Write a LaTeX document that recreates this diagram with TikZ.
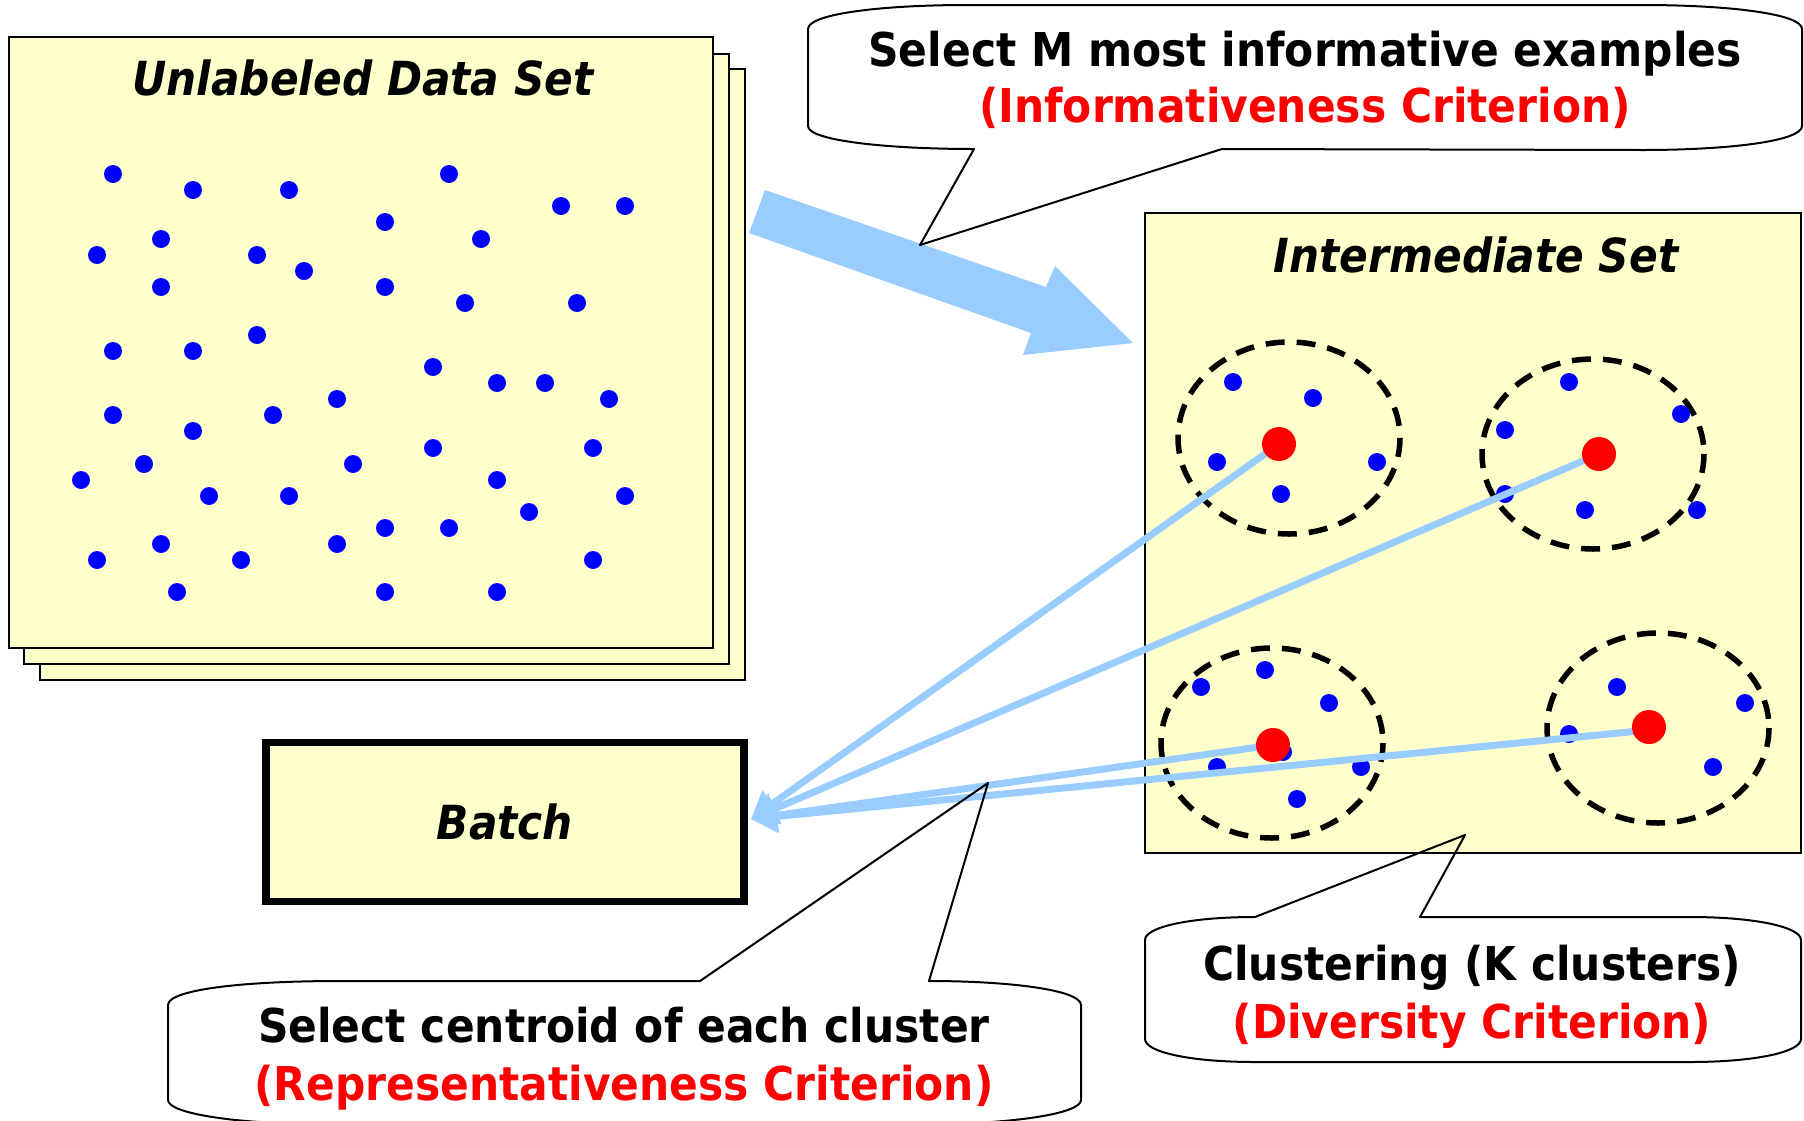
\documentclass[tikz,border=0pt]{standalone}
\usepackage{fontspec}
\setsansfont{DejaVu Sans}
\usetikzlibrary{arrows.meta}
\definecolor{yel}{HTML}{FFFFCC}
\definecolor{lblue}{HTML}{99CCFF}
\definecolor{dotblue}{HTML}{0000FF}
\definecolor{cred}{HTML}{FF0000}
\newcommand{\myCallFont}{\sffamily\bfseries\fontsize{46.6}{56}\selectfont}
\newcommand{\myTitleFont}{\sffamily\bfseries\itshape\fontsize{47}{56}\selectfont}
\newcommand{\sxc}[1]{\scalebox{0.91}[1]{#1}}
\newcommand{\sxt}[1]{\scalebox{0.9}[1]{#1}}
\begin{document}
\begin{tikzpicture}[x=1pt,y=-1pt,
  sheet/.style={draw=black,fill=yel,line width=2pt,inner sep=0pt},
  ttl/.style={font=\myTitleFont,anchor=base,inner sep=0pt},
  ctxt/.style={font=\myCallFont,anchor=base,inner sep=0pt},
  callout/.style={draw=black,line width=2pt,line join=round},
  clus/.style={draw=black,line width=5.5pt,dash pattern=on 19pt off 12pt},
  link/.style={draw=lblue,line width=7pt,-{Triangle[length=26pt,width=32pt]}},
  cent/.style={circle,fill=cred,minimum size=34pt,inner sep=0pt},
  bdot/.style={fill=dotblue}]
\useasboundingbox (0,0) rectangle (1804,1120);
\fill[white] (0,0) rectangle (1804,1120);
\clip (0,0) rectangle (1804,1120);

% stacked unlabeled sheets
\node[sheet,minimum width=705pt,minimum height=611pt] (u3) at (392.5,374.5) {};
\node[sheet,minimum width=705pt,minimum height=610pt] (u2) at (376.5,359) {};
\node[sheet,minimum width=704pt,minimum height=611pt] (u1) at (361,342.5) {};
\node[ttl] (tu) at (363,95) {\sxt{Unlabeled Data Set}};

\foreach \x/\y in {113/174,193/190,289/190,449/174,561/206,625/206,
  385/222,161/239,97/255,257/255,304/271,481/239,
  161/287,385/287,465/303,577/303,
  257/335,113/351,193/351,
  433/367,497/383,545/383,609/399,337/399,
  113/415,273/415,193/431,433/448,593/448,
  144/464,353/464,81/480,497/480,209/496,289/496,625/496,
  529/512,385/528,449/528,161/544,337/544,
  97/560,241/560,593/560,177/592,385/592,497/592}
  \fill[bdot] (\x,\y) circle[radius=9];

% big arrow
\fill[lblue] (765,190) -- (1046,287) -- (1055,266) -- (1133,343) -- (1023,355) -- (1031,333) -- (749,233) -- cycle;

% intermediate set
\node[sheet,minimum width=656pt,minimum height=640pt] (inter) at (1473,533) {};
\node[ttl] (ti) at (1476,272) {\sxt{Intermediate Set}};

\draw[clus] (1289,438) ellipse [x radius=111, y radius=96];
\draw[clus] (1593,454) ellipse [x radius=111, y radius=95];
\draw[clus] (1272,743) ellipse [x radius=111, y radius=95];
\draw[clus] (1658,728) ellipse [x radius=111, y radius=95];

\foreach \x/\y in {1233/382,1313/398,1217/462,1377/462,1281/494,
  1569/382,1505/430,1681/414,1505/494,1585/510,1697/510,
  1201/687,1265/670,1329/703,1217/767,1361/767,1297/799,1283/752,
  1617/687,1569/734,1745/703,1713/767}
  \fill[bdot] (\x,\y) circle[radius=9];

% batch
\node[draw=black,fill=yel,line width=7.5pt,minimum width=478pt,minimum height=159pt,inner sep=0pt,font=\myTitleFont] (batch) at (505,822) {\sxt{Batch}};

% centroid links
\coordinate (c1) at (1279,444);
\coordinate (c2) at (1599,454);
\coordinate (c3) at (1273,745);
\coordinate (c4) at (1649,730);
\coordinate (tip) at (751,819);
\draw[link] (c1) -- (tip);
\draw[link] (c2) -- (tip);
\draw[link] (c3) -- (tip);
\draw[link] (c4) -- (tip);
\node[cent] (r1) at (c1) {};
\node[cent] (r2) at (c2) {};
\node[cent] (r3) at (c3) {};
\node[cent] (r4) at (1649,727) {};

% top callout
\coordinate (pt1) at (920,245);
\draw[callout] (808,29) .. controls (808,14) and (880,5) .. (968,5) -- (1642,5)
  .. controls (1730,5) and (1802,14) .. (1802,29) -- (1802,126)
  .. controls (1802,141) and (1730,150) .. (1642,150) -- (1222,149) -- (pt1) -- (974,149)
  .. controls (890,149) and (808,141) .. (808,126) -- cycle;
\node[ctxt] (k1) at (1305,66) {\sxc{Select M most informative examples}};
\node[ctxt,text=cred] (k2) at (1305,122) {\sxc{(Informativeness Criterion)}};

% bottom right callout
\coordinate (pt2) at (1465,835);
\draw[callout] (1145,940) .. controls (1145,927) and (1190,917) .. (1255,917) -- (pt2) -- (1420,917)
  -- (1690,917) .. controls (1755,917) and (1801,927) .. (1801,940) -- (1801,1039)
  .. controls (1801,1052) and (1755,1062) .. (1690,1062) -- (1255,1062)
  .. controls (1190,1062) and (1145,1052) .. (1145,1039) -- cycle;
\node[ctxt] (d1) at (1472,980) {\sxc{Clustering (K clusters)}};
\node[ctxt,text=cred] (d2) at (1472,1038) {\sxc{(Diversity Criterion)}};

% bottom left callout
\coordinate (pt3) at (988,783);
\draw[callout] (168,1005) .. controls (168,990) and (240,981) .. (340,981) -- (700,981) -- (pt3) -- (929,981)
  .. controls (1010,981) and (1081,990) .. (1081,1005) -- (1081,1100)
  .. controls (1081,1114) and (1010,1124) .. (930,1124) -- (320,1124)
  .. controls (240,1124) and (168,1114) .. (168,1100) -- cycle;
\node[ctxt] (s1) at (624,1042) {\sxc{Select centroid of each cluster}};
\node[ctxt,text=cred] (s2) at (624,1100) {\sxc{(Representativeness Criterion)}};
\end{tikzpicture}
\end{document}
